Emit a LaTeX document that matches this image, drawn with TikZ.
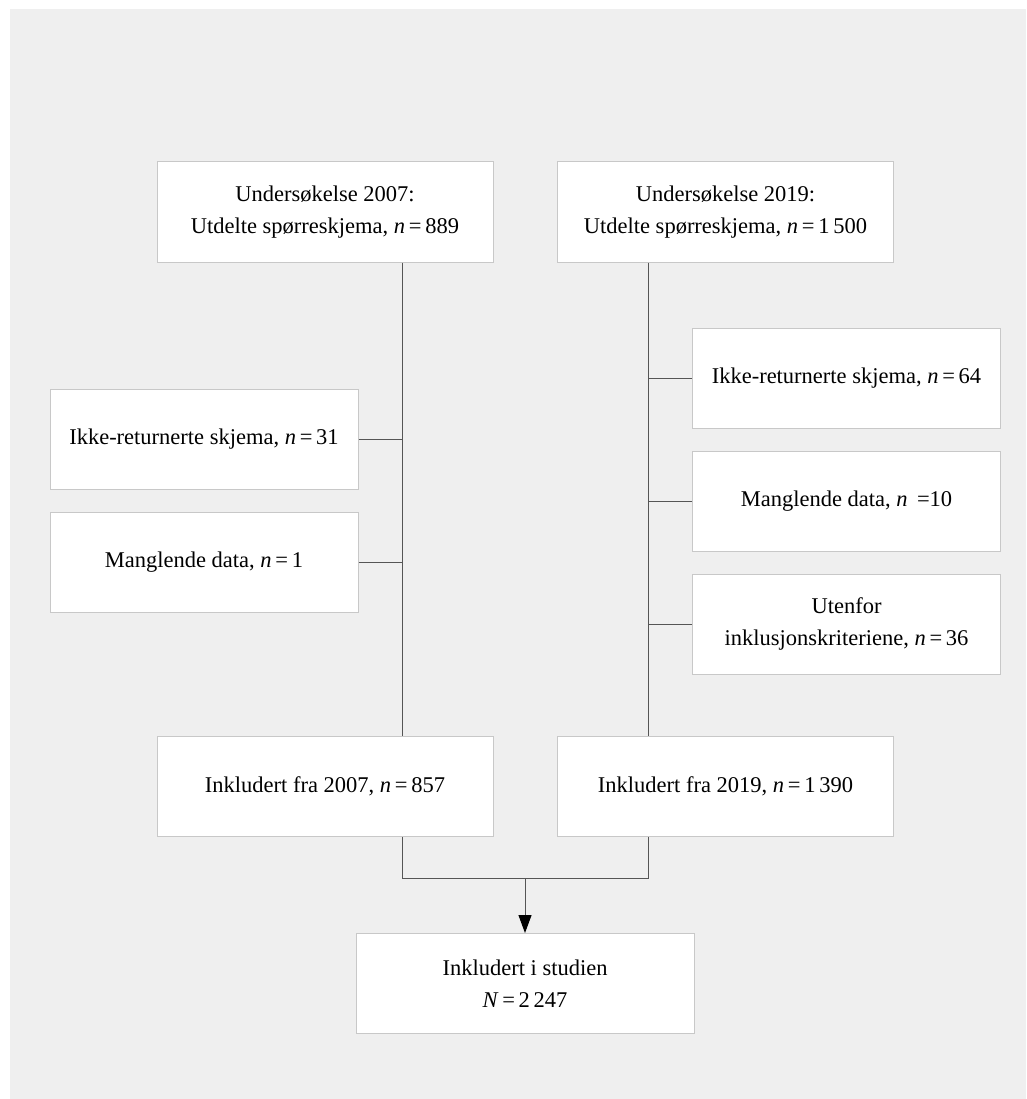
\documentclass[tikz,border=0pt]{standalone}
\usepackage{fontspec}
\setmainfont{Liberation Serif}
\usetikzlibrary{arrows.meta}
\definecolor{panel}{HTML}{EFEFEF}
\definecolor{boxline}{HTML}{C8C8C8}
\definecolor{conn}{HTML}{555555}
\tikzset{
  box/.style={draw=boxline, line width=1pt, fill=white, align=center,
    minimum width=336pt, minimum height=100pt, inner sep=0pt,
    font=\fontsize{22.5}{32}\selectfont},
  sidebox/.style={box, minimum width=308pt},
  conline/.style={draw=conn, line width=1pt},
}
\newcommand{\nn}{\textit{n}}
\begin{document}
\begin{tikzpicture}[x=1pt,y=-1pt]
\useasboundingbox (0,0) rectangle (1026,1099);
\fill[white] (0,0) rectangle (1026,1099);
\fill[panel] (10,9) rectangle (1026,1099);

\node[box] (A) at (325,212) {Undersøkelse 2007:\\Utdelte spørreskjema, \nn\,=\,889};
\node[box] (B) at (725.5,212) {Undersøkelse 2019:\\Utdelte spørreskjema, \nn\,=\,1\,500};
\node[sidebox] (C) at (204,439.5) {Ikke-returnerte skjema, \nn\,=\,31};
\node[sidebox] (D) at (204,562.5) {Manglende data, \nn\,=\,1};
\node[sidebox] (E) at (846.5,378.5) {Ikke-returnerte skjema, \nn\,=\,64};
\node[sidebox] (F) at (846.5,501) {Manglende data, \nn\ \,=10};
\node[sidebox] (G) at (846.5,624) {Utenfor\\inklusjonskriteriene, \nn\,=\,36};
\node[box] (H) at (325,786.5) {Inkludert fra 2007, \nn\,=\,857};
\node[box] (I) at (725.5,786.5) {Inkludert fra 2019, \nn\,=\,1\,390};
\node[box, minimum width=338pt] (J) at (525,983.5) {Inkludert i studien\\\textit{N}\,=\,2\,247};

\coordinate (jl) at (402,878);
\coordinate (jr) at (648,878);

\draw[conline] (A.south -| jl) -- (H.north -| jl);
\draw[conline] (B.south -| jr) -- (I.north -| jr);
\draw[conline] (C.east) -- (C.east -| jl);
\draw[conline] (D.east) -- (D.east -| jl);
\draw[conline] (E.west) -- (E.west -| jr);
\draw[conline] (F.west) -- (F.west -| jr);
\draw[conline] (G.west) -- (G.west -| jr);
\draw[conline] (H.south -| jl) -- (jl) -- (jr) -- (I.south -| jr);
\draw[conline, -{Triangle[length=18pt,width=13pt,color=black,fill=black]}] (J.north |- jl) -- (J.north);
\end{tikzpicture}
\end{document}
